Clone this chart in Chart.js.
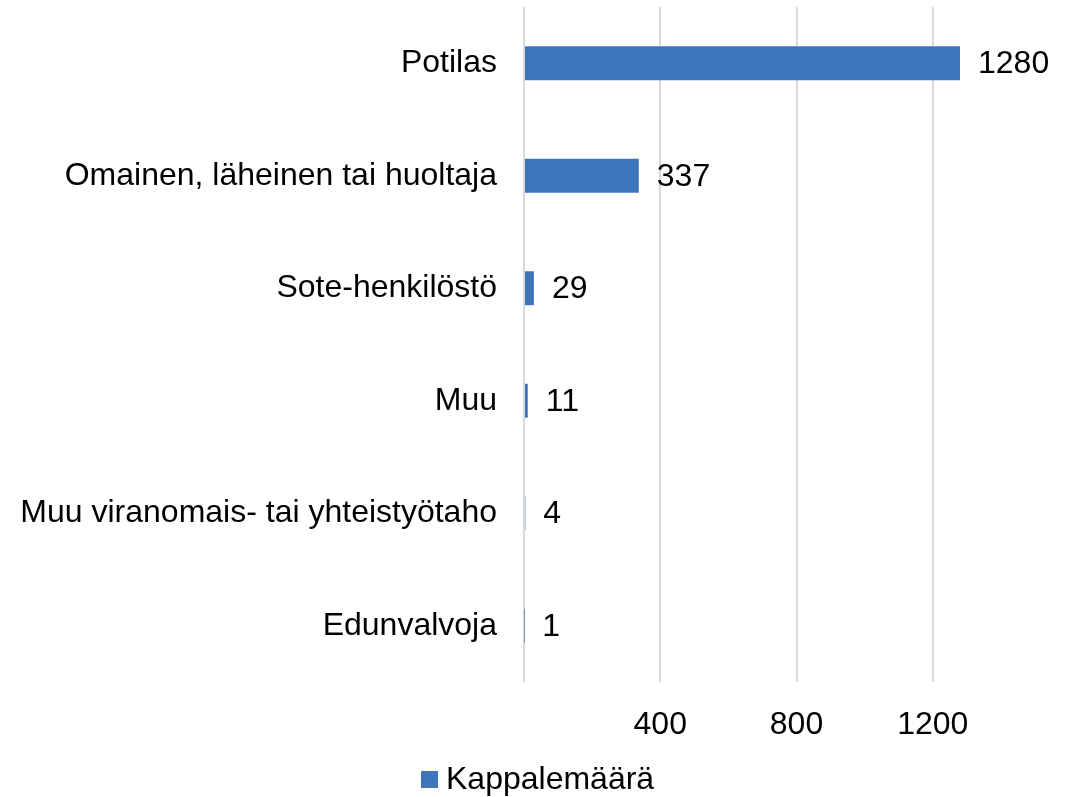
<!DOCTYPE html>
<html>
<head>
<meta charset="utf-8">
<script src="https://cdn.jsdelivr.net/npm/chart.js@4.4.1/dist/chart.umd.min.js"></script>
<style>
html,body{margin:0;padding:0;background:#fff;}
#wrap{width:1073px;height:797px;}
</style>
</head>
<body>
<div id="wrap"><canvas id="c" width="1073" height="797"></canvas></div>
<script>
const categories = ["Potilas", "Omainen, läheinen tai huoltaja", "Sote-henkilöstö", "Muu", "Muu viranomais- tai yhteistyötaho", "Edunvalvoja"];
const values = [1280, 337, 29, 11, 4, 1];
const seriesName = "Kappalemäärä";
const hiddenTicks = [0, 1600];

const FONT = "'Liberation Sans', Arial, sans-serif";

const valueLabels = {
  id: 'valueLabels',
  afterDatasetsDraw(chart) {
    const ctx = chart.ctx;
    const meta = chart.getDatasetMeta(0);
    ctx.save();
    ctx.font = "32px " + FONT;
    ctx.fillStyle = "#000";
    ctx.textAlign = "left";
    ctx.textBaseline = "middle";
    meta.data.forEach((el, i) => {
      ctx.fillText(String(chart.data.datasets[0].data[i]), el.x + 18, el.y + 1);
    });
    ctx.restore();
  }
};

const bottomLegend = {
  id: 'bottomLegend',
  afterDraw(chart) {
    const ctx = chart.ctx;
    const ds = chart.data.datasets[0];
    ctx.save();
    ctx.font = "32px " + FONT;
    const tw = ctx.measureText(ds.label).width;
    const box = 17, gap = 8;
    const total = box + gap + tw;
    const x0 = Math.round(chart.width / 2 + 1 - total / 2);
    const cy = 779.5;
    ctx.fillStyle = ds.backgroundColor;
    ctx.fillRect(x0, Math.round(cy - box / 2), box, box);
    ctx.fillStyle = "#000";
    ctx.textAlign = "left";
    ctx.textBaseline = "middle";
    ctx.fillText(ds.label, x0 + box + gap, cy + 1);
    ctx.restore();
  }
};

new Chart(document.getElementById('c'), {
  type: 'bar',
  data: {
    labels: categories,
    datasets: [{
      label: seriesName,
      data: values,
      backgroundColor: '#3E76BC',
      borderWidth: 0,
      categoryPercentage: 1,
      barPercentage: 0.302
    }]
  },
  options: {
    indexAxis: 'y',
    responsive: false,
    animation: false,
    devicePixelRatio: 1,
    layout: { padding: { top: 7, right: 4, left: 0, bottom: 31 } },
    plugins: {
      legend: { display: false },
      tooltip: { enabled: false }
    },
    scales: {
      x: {
        min: 0,
        max: 1600,
        afterFit: (s) => { s.paddingLeft = 0; s.paddingRight = 0; s.height = 84; },
        ticks: {
          stepSize: 400,
          font: { family: FONT, size: 32 },
          color: '#000',
          padding: 24,
          maxRotation: 0,
          callback: (v) => hiddenTicks.includes(v) ? '' : v
        },
        grid: {
          color: (c) => (c.tick && c.tick.value === 1600) ? 'rgba(0,0,0,0)' : '#d9d9d9',
          lineWidth: 2,
          drawTicks: false
        },
        border: { display: false }
      },
      y: {
        afterFit: (s) => { s.width = 524; s.paddingTop = 0; s.paddingBottom = 0; },
        ticks: {
          font: { family: FONT, size: 32 },
          color: '#000',
          padding: 27
        },
        grid: { display: false, drawTicks: false },
        border: { display: false }
      }
    }
  },
  plugins: [valueLabels, bottomLegend]
});
</script>
</body>
</html>
